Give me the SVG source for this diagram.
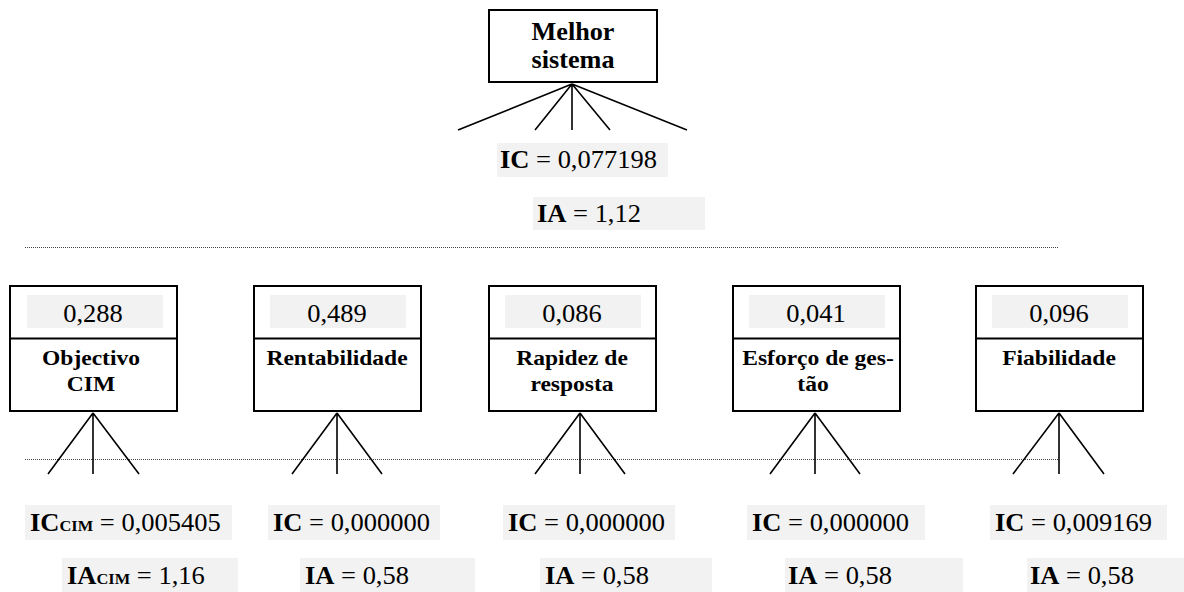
<svg xmlns="http://www.w3.org/2000/svg" width="1184" height="592" viewBox="0 0 1184 592">
  <style>
    text { font-family: "Liberation Serif", "Times New Roman", serif; fill: #000; }
    .title { font-size: 24.5px; font-weight: bold; text-anchor: middle; }
    .sub { font-size: 22px; font-weight: bold; text-anchor: middle; }
    .val { font-size: 25px; }
    .mid { text-anchor: middle; }
    .b { font-weight: bold; }
    .idx { font-size: 15.5px; font-weight: bold; }
    .box { fill: #fff; stroke: #000; stroke-width: 2; }
    .shade { fill: #f2f2f2; }
    .link { stroke: #000; stroke-width: 1.6; fill: none; }
    .dots { stroke: #444; stroke-width: 1; stroke-dasharray: 1 1; fill: none; }
  </style>

  <!-- level separators -->
  <g id="separators">
    <line class="dots" x1="25" y1="247.5" x2="1058" y2="247.5"/>
    <line class="dots" x1="25" y1="459.5" x2="1058" y2="459.5"/>
  </g>

  <!-- connectors -->
  <g id="connectors">
    <path class="link" d="M572,84 L458,130 M572,84 L535,130 M572,84 L572,130 M572,84 L610,130 M572,84 L687,130"/>
    <path class="link" d="M93,413 L48,474 M93,413 L93,474 M93,413 L139,474"/>
    <path class="link" d="M337,413 L292,474 M337,413 L337,474 M337,413 L382,474"/>
    <path class="link" d="M580,413 L535,474 M580,413 L580,474 M580,413 L625,474"/>
    <path class="link" d="M815,413 L770,474 M815,413 L815,474 M815,413 L860,474"/>
    <path class="link" d="M1059,413 L1013,474 M1059,413 L1059,474 M1059,413 L1104,474"/>
  </g>

  <!-- goal -->
  <g id="goal">
    <rect class="box" x="489" y="10" width="168" height="72"/>
    <text class="title" transform="translate(573,40) scale(1.07,1)">Melhor</text>
    <text class="title" transform="translate(573,68) scale(1.07,1)">sistema</text>
    <rect class="shade" x="497" y="143" width="171" height="34"/>
    <text class="val" transform="translate(500,168) scale(1.06,1)"><tspan class="b">IC</tspan> = 0,077198</text>
    <rect class="shade" x="533" y="197" width="172" height="33"/>
    <text class="val" transform="translate(537,222) scale(1.06,1)"><tspan class="b">IA</tspan> = 1,12</text>
  </g>

  <!-- criteria -->
  <g id="crit-cim">
    <rect class="box" x="10" y="286" width="167" height="125"/>
    <line class="box" x1="10" y1="338.5" x2="177" y2="338.5"/>
    <rect class="shade" x="27" y="295" width="136" height="33"/>
    <text class="val mid" transform="translate(93,322) scale(1.06,1)">0,288</text>
    <text class="sub" transform="translate(91,365) scale(1.07,1)">Objectivo</text>
    <text class="sub" transform="translate(91,391) scale(1.07,1)">CIM</text>
  </g>

  <g id="crit-rentabilidade">
    <rect class="box" x="254" y="286" width="167" height="125"/>
    <line class="box" x1="254" y1="338.5" x2="421" y2="338.5"/>
    <rect class="shade" x="270" y="295" width="136" height="33"/>
    <text class="val mid" transform="translate(337,322) scale(1.06,1)">0,489</text>
    <text class="sub" transform="translate(337,365) scale(1.07,1)">Rentabilidade</text>
  </g>

  <g id="crit-rapidez">
    <rect class="box" x="489" y="286" width="167" height="125"/>
    <line class="box" x1="489" y1="338.5" x2="656" y2="338.5"/>
    <rect class="shade" x="505" y="295" width="136" height="33"/>
    <text class="val mid" transform="translate(572,322) scale(1.06,1)">0,086</text>
    <text class="sub" transform="translate(572,365) scale(1.07,1)">Rapidez de</text>
    <text class="sub" transform="translate(572,391) scale(1.07,1)">resposta</text>
  </g>

  <g id="crit-esforco">
    <rect class="box" x="733" y="286" width="167" height="125"/>
    <line class="box" x1="733" y1="338.5" x2="900" y2="338.5"/>
    <rect class="shade" x="749" y="295" width="136" height="33"/>
    <text class="val mid" transform="translate(816,322) scale(1.06,1)">0,041</text>
    <text class="sub" transform="translate(818,365) scale(1.07,1)">Esforço de ges-</text>
    <text class="sub" transform="translate(813,391) scale(1.07,1)">tão</text>
  </g>

  <g id="crit-fiabilidade">
    <rect class="box" x="976" y="286" width="167" height="125"/>
    <line class="box" x1="976" y1="338.5" x2="1143" y2="338.5"/>
    <rect class="shade" x="992" y="295" width="136" height="33"/>
    <text class="val mid" transform="translate(1059,322) scale(1.06,1)">0,096</text>
    <text class="sub" transform="translate(1059,365) scale(1.07,1)">Fiabilidade</text>
  </g>

  <!-- consistency indices per criterion -->
  <g id="idx-cim">
    <rect class="shade" x="25" y="505" width="207" height="35"/>
    <text class="val" transform="translate(30,531) scale(1.06,1)"><tspan class="b">IC</tspan><tspan class="idx">CIM</tspan> = 0,005405</text>
    <rect class="shade" x="62" y="558" width="176" height="34"/>
    <text class="val" transform="translate(67,584) scale(1.06,1)"><tspan class="b">IA</tspan><tspan class="idx">CIM</tspan> = 1,16</text>
  </g>

  <g id="idx-rentabilidade">
    <rect class="shade" x="268" y="505" width="172" height="35"/>
    <text class="val" transform="translate(273,531) scale(1.06,1)"><tspan class="b">IC</tspan> = 0,000000</text>
    <rect class="shade" x="300" y="558" width="175" height="34"/>
    <text class="val" transform="translate(305,584) scale(1.06,1)"><tspan class="b">IA</tspan> = 0,58</text>
  </g>

  <g id="idx-rapidez">
    <rect class="shade" x="503" y="505" width="172" height="35"/>
    <text class="val" transform="translate(508,531) scale(1.06,1)"><tspan class="b">IC</tspan> = 0,000000</text>
    <rect class="shade" x="540" y="558" width="172" height="34"/>
    <text class="val" transform="translate(545,584) scale(1.06,1)"><tspan class="b">IA</tspan> = 0,58</text>
  </g>

  <g id="idx-esforco">
    <rect class="shade" x="747" y="505" width="178" height="35"/>
    <text class="val" transform="translate(752,531) scale(1.06,1)"><tspan class="b">IC</tspan> = 0,000000</text>
    <rect class="shade" x="785" y="558" width="178" height="34"/>
    <text class="val" transform="translate(788,584) scale(1.06,1)"><tspan class="b">IA</tspan> = 0,58</text>
  </g>

  <g id="idx-fiabilidade">
    <rect class="shade" x="990" y="505" width="177" height="35"/>
    <text class="val" transform="translate(995,531) scale(1.06,1)"><tspan class="b">IC</tspan> = 0,009169</text>
    <rect class="shade" x="1027" y="558" width="157" height="34"/>
    <text class="val" transform="translate(1030,584) scale(1.06,1)"><tspan class="b">IA</tspan> = 0,58</text>
  </g>
</svg>
